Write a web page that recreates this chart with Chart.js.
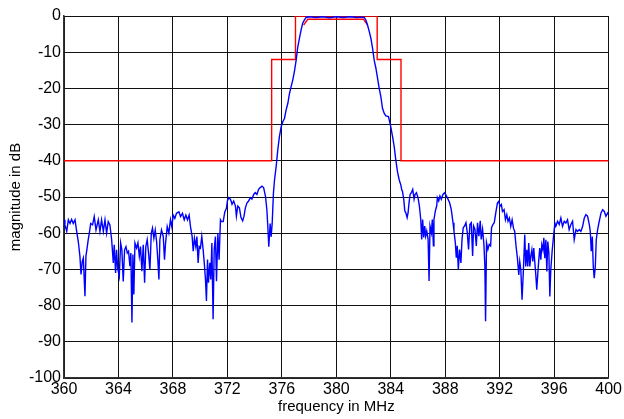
<!DOCTYPE html>
<html>
<head>
<meta charset="utf-8">
<script src="https://cdn.jsdelivr.net/npm/chart.js@4.4.1/dist/chart.umd.min.js"></script>
<style>
  html, body { margin: 0; padding: 0; background: #fff; }
</style>
</head>
<body>
<canvas id="filterChart" width="624" height="419"></canvas>
<script>
const freq = [
  360.00, 360.07, 360.20, 360.32, 360.44, 360.56, 360.68, 360.81, 360.93, 361.05,
  361.17, 361.25, 361.34, 361.42, 361.54, 361.61, 361.71, 361.78, 361.86, 361.96,
  362.10, 362.22, 362.35, 362.52, 362.64, 362.76, 362.89, 363.01, 363.13, 363.25,
  363.37, 363.50, 363.62, 363.69, 363.79, 363.86, 363.94, 364.06, 364.16, 364.25,
  364.35, 364.45, 364.55, 364.65, 364.74, 364.84, 364.91, 364.99, 365.06, 365.13,
  365.21, 365.33, 365.43, 365.53, 365.62, 365.72, 365.82, 365.92, 366.01, 366.11,
  366.21, 366.31, 366.41, 366.50, 366.60, 366.70, 366.80, 366.89, 366.97, 367.04,
  367.16, 367.29, 367.38, 367.46, 367.58, 367.70, 367.82, 367.92, 368.02, 368.14,
  368.26, 368.44, 368.56, 368.70, 368.83, 368.95, 369.07, 369.19, 369.29, 369.41,
  369.49, 369.58, 369.68, 369.76, 369.85, 369.93, 370.02, 370.12, 370.22, 370.32,
  370.39, 370.46, 370.54, 370.61, 370.71, 370.78, 370.86, 370.95, 371.03, 371.12,
  371.20, 371.30, 371.39, 371.49, 371.56, 371.69, 371.81, 371.93,
  372.00, 372.10, 372.22, 372.27, 372.34, 372.46, 372.59, 372.66, 372.76, 372.88,
  373.00, 373.12, 373.22, 373.32, 373.44, 373.56, 373.68, 373.80, 373.93, 374.05,
  374.17, 374.29, 374.41, 374.54, 374.66,
  374.80, 374.90, 374.97, 375.04, 375.14, 375.21, 375.29, 375.38, 375.46, 375.58,
  375.70, 375.82, 375.95, 376.07, 376.19, 376.31, 376.44, 376.56, 376.68, 376.80,
  376.92, 377.05, 377.17, 377.29, 377.41, 377.53, 377.66, 377.78,
  378.00, 378.50, 379.00, 379.50, 380.00, 380.50, 381.00, 381.50, 381.90,
  382.05, 382.17, 382.29, 382.42, 382.54, 382.66, 382.78, 382.91, 383.03, 383.15,
  383.27, 383.39, 383.52, 383.64, 383.83,
  384.00, 384.13, 384.25, 384.37, 384.49, 384.62, 384.74, 384.81,
  384.85, 384.95, 385.03, 385.10, 385.20, 385.27, 385.34, 385.42, 385.51, 385.61,
  385.71, 385.78, 385.88, 386.00, 386.10, 386.20, 386.27, 386.34, 386.42, 386.49,
  386.56, 386.64, 386.74, 386.81, 386.88, 386.98, 387.05, 387.13, 387.17, 387.27,
  387.37, 387.42, 387.52, 387.61, 387.71, 387.83, 387.96, 388.08, 388.20, 388.32,
  388.44, 388.57, 388.64, 388.74, 388.81, 388.88, 388.96, 389.05, 389.15, 389.23,
  389.32, 389.42, 389.52, 389.62, 389.71, 389.81, 389.91, 390.01, 390.08, 390.18,
  390.28, 390.37, 390.47, 390.57, 390.64, 390.74, 390.84, 390.91, 390.96, 391.03,
  391.13, 391.23, 391.33, 391.40, 391.50, 391.60,
  391.71, 391.83, 391.93, 392.02, 392.12, 392.20, 392.32, 392.42, 392.52, 392.61,
  392.71, 392.81, 392.91, 393.01, 393.10, 393.20, 393.30, 393.40, 393.47, 393.55,
  393.64, 393.74, 393.84, 393.91, 393.99, 394.06, 394.13, 394.21, 394.28, 394.36,
  394.43, 394.50, 394.58, 394.65, 394.72, 394.80, 394.87, 394.94, 395.02, 395.09,
  395.17, 395.24, 395.31, 395.39, 395.46, 395.53, 395.61, 395.68, 395.75, 395.85,
  395.95, 396.05, 396.12, 396.25, 396.37, 396.49, 396.61, 396.74, 396.86, 396.98,
  397.10, 397.23, 397.35, 397.47, 397.60, 397.72, 397.84, 397.96, 398.09, 398.21,
  398.33, 398.45, 398.58, 398.65, 398.72, 398.80, 398.87, 398.94, 399.02, 399.09,
  399.19, 399.31, 399.44, 399.56, 399.68, 399.80, 399.93, 400.00
];
const magDb = [
  -56.3, -57.7, -59.5, -56.3, -57.3, -56.2, -57.3, -56.3, -59.5, -62.3,
  -66.4, -71.4, -67.8, -66.9, -77.4, -66.4, -63.7, -61.8, -60.0, -57.3,
  -57.7, -55.4, -59.1, -56.3, -59.5, -56.3, -59.5, -56.3, -60.0, -56.8,
  -57.7, -61.8, -68.2, -63.2, -71.0, -64.6, -69.6, -71.9, -62.7, -64.6,
  -73.3, -64.6, -63.7, -65.5, -65.0, -69.1, -65.5, -84.7, -65.9, -76.9,
  -62.7, -64.1, -62.7, -66.4, -63.7, -70.5, -63.2, -73.7, -63.7, -61.8,
  -65.5, -70.1, -60.0, -58.6, -61.4, -59.1, -62.3, -67.3, -72.8, -61.8,
  -59.1, -60.9, -67.3, -62.7, -58.2, -60.0, -56.3, -58.2, -55.0, -55.9,
  -54.5, -54.1, -55.4, -54.5, -56.3, -55.0, -56.3, -55.0, -58.2, -60.9,
  -65.0, -61.4, -63.7, -60.9, -68.2, -63.7, -64.1, -60.9, -64.6, -69.1,
  -72.8, -78.7, -67.3, -73.7, -68.2, -72.8, -62.7, -83.8, -64.6, -60.9,
  -73.3, -60.0, -67.3, -56.3, -56.8, -56.8, -54.1, -53.1,
  -51.1, -50.2, -50.6, -51.1, -52.0, -51.1, -52.5, -55.3, -52.5, -53.0,
  -55.7, -56.6, -55.3, -53.0, -51.6, -51.1, -50.2, -50.6, -49.3, -48.8,
  -49.3, -47.9, -47.4, -47.0, -47.4,
  -49.9, -53.6, -58.2, -63.7, -57.3, -61.0, -57.3, -49.0, -45.3, -41.6,
  -37.0, -33.3, -30.6, -29.2, -28.3, -26.0, -24.1, -21.4, -19.5, -17.7,
  -15.4, -12.2, -8.5, -6.2, -3.9, -2.0, -1.1, -0.4,
  -0.2, -0.4, -0.2, -0.5, -0.2, -0.4, -0.2, -0.4, -0.3,
  -0.4, -1.1, -2.5, -4.3, -6.2, -8.9, -12.2, -14.5, -17.2, -20.0,
  -22.3, -25.5, -26.9, -27.6, -27.8,
  -30.6, -33.3, -36.1, -39.8, -43.0, -45.3, -46.7, -48.1,
  -48.3, -50.6, -53.9, -54.3, -55.7, -54.3, -51.6, -49.3, -48.8, -47.9,
  -50.6, -49.3, -48.8, -50.2, -52.5, -56.2, -61.7, -56.2, -61.2, -58.0,
  -60.8, -59.4, -61.7, -73.2, -58.0, -59.9, -56.2, -63.5, -56.2, -53.9,
  -52.5, -50.2, -51.1, -49.7, -50.6, -49.3, -48.8, -49.7, -50.6, -51.6,
  -53.4, -57.1, -59.4, -62.6, -66.8, -63.5, -70.0, -64.5, -68.2, -61.7,
  -58.5, -58.0, -57.1, -59.9, -64.5, -57.6, -57.1, -66.3, -58.0, -58.9,
  -63.5, -57.1, -60.8, -56.6, -61.7, -58.9, -63.1, -69.1, -84.3, -62.6,
  -64.5, -63.1, -63.5, -58.5, -57.6, -57.1,
  -54.4, -51.7, -51.2, -52.6, -52.1, -54.0, -53.5, -56.3, -54.9, -56.7,
  -55.8, -58.1, -56.3, -58.6, -59.5, -63.6, -66.9, -71.5, -67.8, -70.1,
  -78.4, -70.1, -60.4, -69.2, -64.6, -69.2, -62.7, -69.2, -66.4, -64.6,
  -67.8, -64.1, -68.2, -71.5, -75.6, -71.0, -67.3, -64.1, -67.3, -63.2,
  -64.6, -61.3, -66.9, -61.8, -70.6, -62.3, -65.5, -77.5, -70.1, -65.0,
  -60.9, -57.2, -58.1, -56.7, -57.6, -55.8, -58.1, -56.7, -57.2, -56.3,
  -59.0, -57.6, -56.7, -61.8, -59.0, -59.5, -59.0, -59.5, -58.1, -55.8,
  -54.9, -55.3, -57.6, -59.5, -65.0, -60.9, -69.2, -72.4, -69.2, -61.8,
  -59.0, -56.7, -54.4, -53.5, -54.0, -55.3, -54.4, -54.9
];

// outer spec mask (upper limit)
const maskFreq = [360, 375.25, 375.25, 377, 377, 383, 383, 384.75, 384.75, 400];
const maskDb   = [-40, -40, -12, -12, 0, 0, -12, -12, -40, -40];
// inner passband mask (lower limit)
const passFreq = [377.6, 377.9, 382.0, 382.3];
const passDb   = [-2.5, -0.9, -0.9, -2.5];

const xTicks = [360, 364, 368, 372, 376, 380, 384, 388, 392, 396, 400];
const yTicks = [-100, -90, -80, -70, -60, -50, -40, -30, -20, -10, 0];

function toPoints(xs, ys) {
  return xs.map((x, i) => ({ x: x, y: ys[i] }));
}

const ctx = document.getElementById('filterChart').getContext('2d');

new Chart(ctx, {
  type: 'line',
  data: {
    datasets: [
      {
        data: toPoints(freq, magDb),
        borderColor: '#0000ff',
        borderWidth: 1.4,
        pointRadius: 0,
        tension: 0
      },
      {
        data: toPoints(maskFreq, maskDb),
        borderColor: '#ff0000',
        borderWidth: 1.4,
        pointRadius: 0,
        tension: 0
      },
      {
        data: toPoints(passFreq, passDb),
        borderColor: '#ff0000',
        borderWidth: 1.4,
        pointRadius: 0,
        tension: 0
      }
    ]
  },
  options: {
    responsive: false,
    animation: false,
    layout: { padding: { top: 16, right: 14, left: 0, bottom: 0 } },
    plugins: {
      legend: { display: false },
      tooltip: { enabled: false }
    },
    scales: {
      x: {
        type: 'linear',
        min: 360,
        max: 400,
        afterBuildTicks: (scale) => { scale.ticks = xTicks.map(v => ({ value: v })); },
        afterFit: (scale) => { scale.height = 41; },
        ticks: {
          color: '#000',
          font: { family: 'Liberation Sans, Arial', size: 16 },
          padding: 2,
          maxRotation: 0
        },
        grid: { color: '#111', lineWidth: 1, drawTicks: false },
        border: { color: '#333', width: 1.5 },
        title: {
          display: true,
          text: 'frequency in MHz',
          color: '#000',
          font: { family: 'Liberation Sans, Arial', size: 15 },
          padding: { top: 0, bottom: 3 }
        }
      },
      y: {
        min: -100,
        max: 0,
        afterBuildTicks: (scale) => { scale.ticks = yTicks.map(v => ({ value: v })); },
        afterFit: (scale) => { scale.width = 64; },
        ticks: {
          color: '#000',
          font: { family: 'Liberation Sans, Arial', size: 16 },
          padding: 3
        },
        grid: { color: '#111', lineWidth: 1, drawTicks: false },
        border: { color: '#333', width: 1.5 },
        title: {
          display: true,
          text: 'magnitude in dB',
          color: '#000',
          font: { family: 'Liberation Sans, Arial', size: 15 },
          padding: { top: 7, bottom: 0 }
        }
      }
    }
  }
});
</script>
</body>
</html>
